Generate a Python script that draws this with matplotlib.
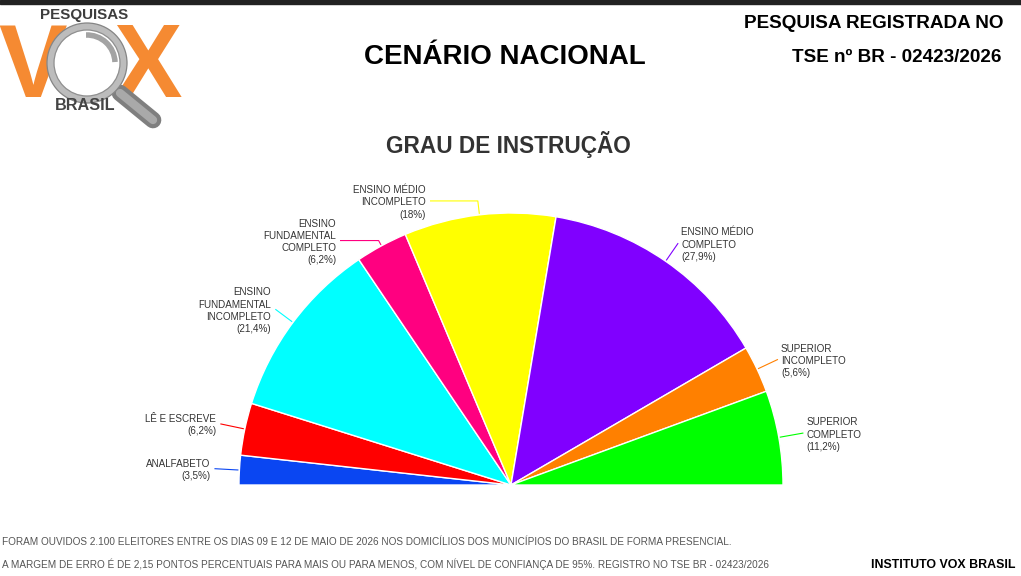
import matplotlib
matplotlib.use("Agg")
import matplotlib.pyplot as plt
from matplotlib import font_manager
from matplotlib.patches import Circle, Rectangle, Arc
import numpy as np

# ---------------- data ----------------
categories = ["ANALFABETO", "LÊ E ESCREVE", "ENSINO\nFUNDAMENTAL\nINCOMPLETO",
              "ENSINO\nFUNDAMENTAL\nCOMPLETO", "ENSINO MÉDIO\nINCOMPLETO",
              "ENSINO MÉDIO\nCOMPLETO", "SUPERIOR\nINCOMPLETO", "SUPERIOR\nCOMPLETO"]
values = [3.5, 6.2, 21.4, 6.2, 18.0, 27.9, 5.6, 11.2]
colors = ["#0A46F2", "#FF0000", "#00FFFF", "#FF0080", "#FFFF00",
          "#8000FF", "#FF8000", "#00FF00"]

title = "CENÁRIO NACIONAL"
subtitle = "GRAU DE INSTRUÇÃO"
header1 = "PESQUISA REGISTRADA NO"
header2 = "TSE nº BR - 02423/2026"
footer1 = ("FORAM OUVIDOS 2.100 ELEITORES ENTRE OS DIAS 09 E 12 DE MAIO DE 2026 NOS "
           "DOMICÍLIOS DOS MUNICÍPIOS DO BRASIL DE FORMA PRESENCIAL.")
footer2 = ("A MARGEM DE ERRO É DE 2,15 PONTOS PERCENTUAIS PARA MAIS OU PARA MENOS, "
           "COM NÍVEL DE CONFIANÇA DE 95%. REGISTRO NO TSE BR - 02423/2026")
footer_right = "INSTITUTO VOX BRASIL"

# label connector layout: (radial extension px, horizontal target x or None)
label_layout = [(25, None), (25, None), (22, None), (6, 340), (14, 430),
                (22, None), (23, None), (25, None)]

# ---------------- fonts ----------------
names = {f.name for f in font_manager.fontManager.ttflist}
BASE = "Liberation Sans" if "Liberation Sans" in names else "DejaVu Sans"
NARROW = "Liberation Sans Narrow" if "Liberation Sans Narrow" in names else BASE

def fmt(v):
    s = f"{v:.1f}".replace(".", ",")
    if s.endswith(",0"):
        s = s[:-2]
    return f"({s}%)"

W, H = 1021, 576
fig = plt.figure(figsize=(W / 100, H / 100), dpi=100)
ax = fig.add_axes([0, 0, 1, 1])
renderer = fig.canvas.get_renderer()

def fit_text(x, y, s, target_w, **kw):
    t = ax.text(x, y, s, fontsize=10, **kw)
    w = t.get_window_extent(renderer).width
    t.set_fontsize(10 * target_w / w)
    return t

# ---------------- pie ----------------
cx, cy, R = 511, 485, 272
fracs = [v / 200.0 for v in values]
wedges, _ = ax.pie(fracs, colors=colors, startangle=180, counterclock=True,
                   radius=R, center=(cx, cy), normalize=False, frame=True,
                   wedgeprops=dict(edgecolor="white", linewidth=1.0))

for w, cat, v, (ext, hx), col in zip(wedges, categories, values, label_layout, colors):
    ang = np.deg2rad((w.theta1 + w.theta2) / 2)
    dx, dy = np.cos(ang), np.sin(ang)
    p0 = (cx + (R + 1) * dx, cy + (R + 1) * dy)
    p1 = (cx + (R + ext) * dx, cy + (R + ext) * dy)
    xs, ys = [p0[0], p1[0]], [p0[1], p1[1]]
    if hx is not None:
        xs.append(hx)
        ys.append(p1[1])
    ax.plot(xs, ys, color=col, lw=0.8, solid_capstyle="butt", zorder=3)
    ex, ey = xs[-1], ys[-1]
    left = dx < 0
    ax.text(ex - 4 if left else ex + 3, ey + 1.5, f"{cat}\n{fmt(v)}",
            ha="right" if left else "left", va="center",
            multialignment="right" if left else "left",
            fontsize=7.1, family=BASE, color="#333333", linespacing=1.28)

ax.set_xlim(0, W)
ax.set_ylim(H, 0)
ax.set_aspect("auto")
ax.axis("off")

# ---------------- header ----------------
ax.add_patch(Rectangle((0, 0), W, 4, color="#222222", zorder=5))
fit_text(505, 57.5, title, 281, ha="center", va="center", family=BASE,
         weight="bold", color="#000000")
fit_text(1003, 23, header1, 259, ha="right", va="center", family=NARROW,
         weight="bold", color="#000000")
fit_text(1001, 57.5, header2, 208, ha="right", va="center", family=NARROW,
         weight="bold", color="#000000")
fit_text(508, 144, subtitle, 245, ha="center", va="center", family=NARROW,
         weight="bold", color="#333333")

# ---------------- footer ----------------
fit_text(2, 542, footer1, 723, ha="left", va="center", family=NARROW,
         color="#555555")
fit_text(2, 564, footer2, 763, ha="left", va="center", family=NARROW,
         color="#555555")
fit_text(1015, 565, footer_right, 143, ha="right", va="center", family=NARROW,
         weight="bold", color="#000000")

# ---------------- logo ----------------
orange = "#F58A32"
ax.text(33, 97, "V", ha="center", va="baseline", fontsize=74, family=BASE,
        weight="bold", color=orange, zorder=4)
ax.text(147, 97, "X", ha="center", va="baseline", fontsize=74, family=BASE,
        weight="bold", color=orange, zorder=4)
ax.plot([120, 153], [93, 120], color="#7f7f7f", lw=12, solid_capstyle="round", zorder=5)
ax.plot([120, 153], [93, 120], color="#a9a9a9", lw=6, solid_capstyle="round", zorder=5)
ax.add_patch(Circle((87, 63), 36.5, fc="white", ec="#bcbcbc", lw=5.2, zorder=6))
ax.add_patch(Circle((87, 63), 40, fc="none", ec="#858585", lw=0.9, zorder=6))
ax.add_patch(Circle((87, 63), 33, fc="none", ec="#909090", lw=0.9, zorder=6))
ax.add_patch(Arc((87, 63), 56, 56, theta1=268, theta2=358, ec="#a3a3a3", lw=4, zorder=6))
fit_text(84, 15, "PESQUISAS", 88, ha="center", va="center", family=NARROW,
         weight="bold", color="#3d3d3d", zorder=7)
fit_text(85, 106, "BRASIL", 60, ha="center", va="center", family=NARROW,
         weight="bold", color="#444444", zorder=7)

fig.savefig("out.png", dpi=100, facecolor="white")
